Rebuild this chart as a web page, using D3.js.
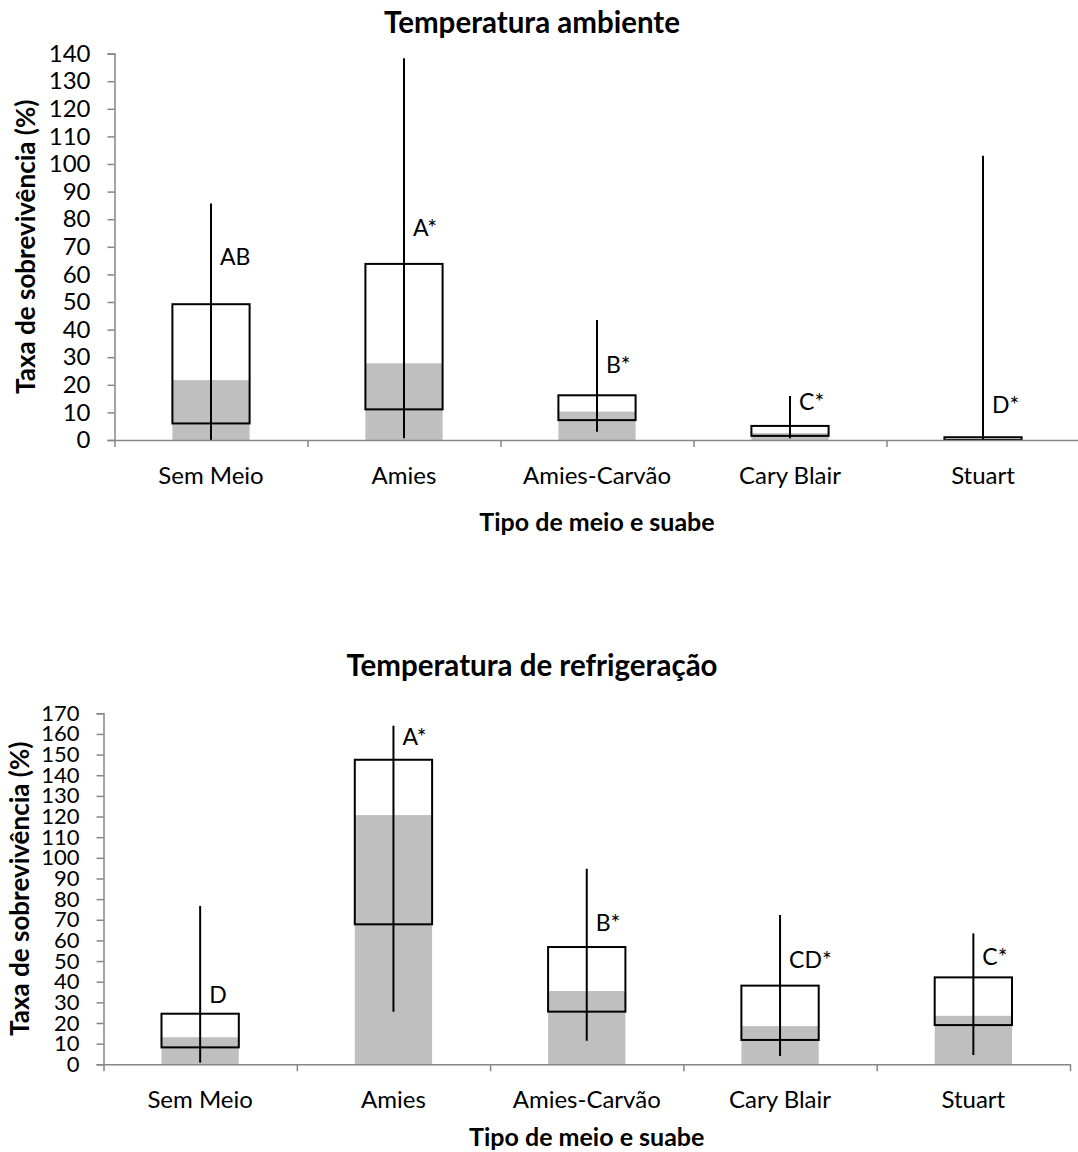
<!DOCTYPE html>
<html>
<head>
<meta charset="utf-8">
<script src="https://cdn.jsdelivr.net/npm/d3@7"></script>
<style>
  body { margin: 0; background: #fff; }
  svg text { font-family: Lato, "Open Sans", sans-serif; fill: #000; }
</style>
</head>
<body>
<svg id="chart" width="1078" height="1152"></svg>
<script>
// categories (same for both panels)
const categories = ['Sem Meio', 'Amies', 'Amies-Carvão', 'Cary Blair', 'Stuart'];

// room temperature
const ambMin = [0, 0.6, 3.0, 0.6, 0];
const ambQ1 = [6.0, 11.1, 7.2, 1.5, 0];
const ambMedian = [21.7, 27.8, 10.3, 2.5, 0.5];
const ambQ3 = [49.2, 63.8, 16.2, 5.1, 1.0];
const ambMax = [85.7, 138.3, 43.5, 15.9, 103];
const ambLetters = ['AB', 'A*', 'B*', 'C*', 'D*'];
const ambLetterAt = [66.5, 76.8, 27.2, 13.9, 12.7];
const ambTicks = d3.range(0, 141, 10);

// refrigeration
const coldMin = [0.8, 25.5, 11.4, 4.0, 4.5];
const coldQ1 = [8.2, 67.8, 25.5, 11.8, 19.0];
const coldMedian = [13.1, 120.7, 35.5, 18.5, 23.5];
const coldQ3 = [24.5, 147.5, 56.8, 38.1, 42.1];
const coldMax = [76.7, 164, 94.7, 72.3, 63.4];
const coldLetters = ['D', 'A*', 'B*', 'CD*', 'C*'];
const coldLetterAt = [33.6, 158.6, 68.6, 50.5, 52.1];
const coldTicks = d3.range(0, 171, 10);

const svg = d3.select('#chart');
const AXIS = '#868686', GREY = '#bfbfbf';

function drawPanel(p) {
    const g = svg.append('g');

    const x = d3.scaleBand()
        .domain(categories)
        .range([p.left, p.right])
        .paddingInner(0.6)
        .paddingOuter(0.3);
    const y = d3.scaleLinear()
        .domain([0, d3.max(p.ticks)])
        .range([p.bottom, p.top]);

    const rows = categories.map((c, i) => ({
        cat: c, min: p.min[i], q1: p.q1[i], med: p.med[i], q3: p.q3[i], max: p.max[i],
        letter: p.letters[i], at: p.letterAt[i]
    }));

    // grey bar up to the median
    g.selectAll('rect.med')
        .data(rows)
        .join('rect')
        .attr('class', 'med')
        .attr('x', d => x(d.cat))
        .attr('width', x.bandwidth())
        .attr('y', d => y(d.med))
        .attr('height', d => y(0) - y(d.med))
        .style('fill', GREY);

    // box outline q1..q3
    g.selectAll('rect.box')
        .data(rows)
        .join('rect')
        .attr('class', 'box')
        .attr('x', d => x(d.cat))
        .attr('width', x.bandwidth())
        .attr('y', d => y(d.q3))
        .attr('height', d => y(d.q1) - y(d.q3))
        .style('fill', 'none')
        .style('stroke', '#000')
        .style('stroke-width', 2);

    // whisker min..max
    g.selectAll('line.whisker')
        .data(rows)
        .join('line')
        .attr('class', 'whisker')
        .attr('x1', d => x(d.cat) + x.bandwidth() / 2)
        .attr('x2', d => x(d.cat) + x.bandwidth() / 2)
        .attr('y1', d => y(d.min))
        .attr('y2', d => y(d.max))
        .style('stroke', '#000')
        .style('stroke-width', 2);

    // significance letters
    g.selectAll('text.letter')
        .data(rows)
        .join('text')
        .attr('class', 'letter')
        .attr('x', d => x(d.cat) + x.bandwidth() / 2 + 9)
        .attr('y', d => y(d.at))
        .attr('dy', '0.36em')
        .style('font-size', '23px')
        .text(d => d.letter);

    // y axis
    const yAxis = g.append('g')
        .attr('transform', `translate(${p.left},0)`)
        .call(d3.axisLeft(y).tickValues(p.ticks).tickSize(7).tickPadding(17));
    yAxis.select('.domain').attr('stroke', AXIS).attr('stroke-width', 1.5);
    yAxis.selectAll('.tick line').attr('stroke', AXIS).attr('stroke-width', 1.5);
    yAxis.selectAll('.tick text').style('font-size', p.tickFont).attr('font-family', null);

    // x axis: tick marks between categories, labels under each category
    const xb = d3.scaleLinear().domain([0, categories.length]).range([p.left, p.right]);
    const xAxis = g.append('g')
        .attr('transform', `translate(0,${p.bottom})`)
        .call(d3.axisBottom(xb).tickValues(d3.range(categories.length + 1)).tickSize(7).tickSizeOuter(0).tickFormat(''));
    xAxis.select('.domain').attr('stroke', AXIS).attr('stroke-width', 1.5);
    xAxis.selectAll('.tick line').attr('stroke', AXIS).attr('stroke-width', 1.5);

    g.selectAll('text.cat')
        .data(categories)
        .join('text')
        .attr('class', 'cat')
        .attr('x', d => x(d) + x.bandwidth() / 2)
        .attr('y', p.bottom + 35)
        .attr('dy', '0.36em')
        .attr('text-anchor', 'middle')
        .style('font-size', '24px')
        .text(d => d);

    // titles
    g.append('text')
        .attr('x', p.titleX)
        .attr('y', p.titleY)
        .attr('dy', '0.36em')
        .attr('text-anchor', 'middle')
        .style('font-size', '29.5px')
        .style('font-weight', 'bold')
        .text(p.title);

    g.append('text')
        .attr('x', (p.left + p.right) / 2)
        .attr('y', p.xTitleY)
        .attr('dy', '0.36em')
        .attr('text-anchor', 'middle')
        .style('font-size', '25px')
        .style('font-weight', 'bold')
        .text('Tipo de meio e suabe');

    g.append('text')
        .attr('transform', `translate(${p.yTitleX},${(p.top + p.bottom) / 2}) rotate(-90)`)
        .attr('dy', '0.36em')
        .attr('text-anchor', 'middle')
        .style('font-size', '26px')
        .style('font-weight', 'bold')
        .text('Taxa de sobrevivência (%)');
}

drawPanel({
    left: 114.5, right: 1079.5, top: 53.6, bottom: 440,
    ticks: ambTicks, min: ambMin, q1: ambQ1, med: ambMedian, q3: ambQ3, max: ambMax,
    letters: ambLetters, letterAt: ambLetterAt, tickFont: '24px',
    title: 'Temperatura ambiente', titleX: 532, titleY: 22,
    xTitleY: 522, yTitleX: 26
});

drawPanel({
    left: 103.5, right: 1070, top: 713.3, bottom: 1064.3,
    ticks: coldTicks, min: coldMin, q1: coldQ1, med: coldMedian, q3: coldQ3, max: coldMax,
    letters: coldLetters, letterAt: coldLetterAt, tickFont: '22px',
    title: 'Temperatura de refrigeração', titleX: 532, titleY: 665,
    xTitleY: 1137, yTitleX: 20
});
</script>
</body>
</html>
